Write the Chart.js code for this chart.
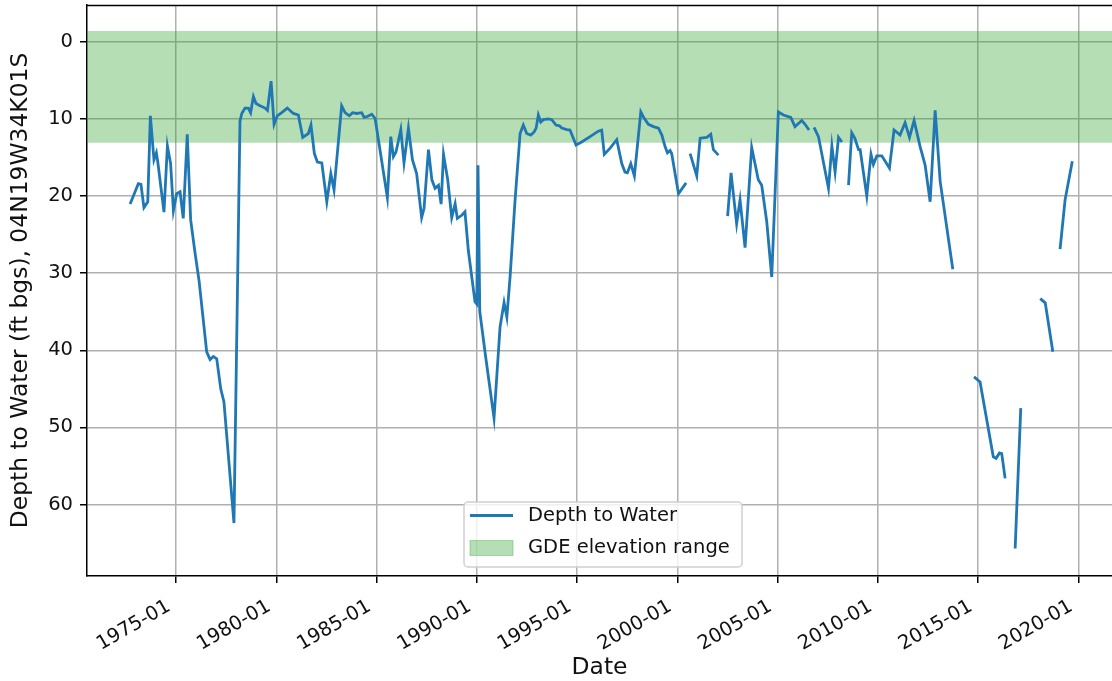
<!DOCTYPE html>
<html>
<head>
<meta charset="utf-8">
<script src="https://cdn.jsdelivr.net/npm/chart.js@4/dist/chart.umd.min.js"></script>
<style>
html,body{margin:0;padding:0;background:#fff;overflow:hidden;}
#wrap{width:1112px;height:681px;position:relative;}
</style>
</head>
<body>
<div id="wrap"><canvas id="c" width="1112" height="681"></canvas></div>
<script>
// ---- data (decimal year, depth to water in ft bgs; null = gap) ----
const dateYears = [
1972.71,1973.12,1973.25,1973.40,1973.59,1973.72,1973.90,1974.02,1974.09,1974.40,
1974.57,1974.73,1974.87,1975.03,1975.20,1975.36,1975.56,1975.73,1975.95,1976.15,
1976.53,1976.70,1976.86,1977.03,1977.23,1977.39,1977.89,1978.19,1978.28,1978.44,
1978.61,1978.72,1978.86,1978.99,1979.19,1979.44,1979.56,1979.74,1979.89,1980.05,
1980.27,1980.55,1980.85,1981.10,1981.32,1981.60,1981.73,1981.90,1982.05,1982.27,
1982.52,1982.72,1982.88,1983.26,1983.43,1983.64,1983.81,1984.01,1984.26,1984.38,
1984.54,1984.76,1984.93,1985.54,1985.71,1985.84,1985.97,1986.21,1986.37,1986.59,
1986.79,1987.00,1987.25,1987.37,1987.59,1987.76,1987.92,1988.09,1988.22,1988.34,
1988.55,1988.75,1988.92,1989.03,1989.25,1989.41,1989.58,1989.91,1990.00,1990.06,
1990.15,1990.45,1990.86,1991.16,1991.36,1991.50,1991.66,1991.91,1992.16,1992.32,
1992.49,1992.69,1992.86,1992.96,1993.07,1993.19,1993.32,1993.57,1993.74,1993.95,
1994.12,1994.24,1994.49,1994.65,1994.95,1995.23,1995.65,1996.06,1996.23,1996.36,
1996.65,1996.98,1997.23,1997.39,1997.51,1997.68,1997.86,1998.18,1998.34,1998.56,
1998.81,1999.06,1999.23,1999.39,1999.51,1999.64,1999.72,2000.06,2000.44,2000.54,
2000.64,2000.97,2001.14,2001.47,2001.67,2001.80,2002.05,2002.30,
2002.51,2002.68,2002.96,2003.13,2003.38,2003.71,2004.04,2004.21,2004.46,2004.71,
2005.04,2005.29,2005.66,2005.87,2006.21,2006.37,2006.57,2006.70,
2006.82,2007.04,2007.54,2007.71,2007.87,2008.04,2008.21,2008.38,
2008.54,2008.70,2008.85,2009.04,2009.12,2009.45,2009.66,2009.78,2009.95,2010.20,
2010.58,2010.81,2011.11,2011.36,2011.58,2011.81,2012.11,2012.36,2012.61,2012.86,
2013.11,2013.74,2014.30,
2014.80,2015.10,2015.76,2015.90,2016.07,2016.18,2016.35,2016.60,
2016.85,2017.13,2017.60,
2018.10,2018.35,2018.73,2018.90,
2019.09,2019.34,2019.70
];
const depthToWater = [
21.05,18.4,18.5,21.5,20.75,9.6,15.3,14.4,15.6,22.1,
13.5,15.8,21.9,19.7,19.45,22.9,12.0,23.1,27.4,31.0,
40.2,41.2,40.8,41.1,45.0,46.7,62.4,10.3,9.3,8.6,
8.6,9.2,7.1,8.0,8.3,8.6,8.9,5.1,10.7,9.6,
9.2,8.6,9.3,9.5,12.4,11.9,10.8,14.5,15.6,15.7,
20.75,17.1,19.2,8.3,9.2,9.6,9.2,9.3,9.2,9.8,
9.7,9.4,9.95,20.2,12.3,14.9,14.3,11.4,15.7,11.2,
15.3,17.1,22.8,21.6,14.0,17.9,19.0,18.6,21.05,14.6,
17.9,22.8,21.0,22.9,22.5,22.05,27.1,33.7,34.0,16.0,
35.0,41.0,48.8,37.0,33.8,35.7,30.5,20.5,11.9,10.8,
11.9,12.1,11.7,11.2,9.5,10.4,10.1,10.0,10.1,10.8,
10.9,11.2,11.4,11.45,13.4,13.0,12.3,11.6,11.45,14.6,
13.8,12.7,15.8,16.9,17.0,15.8,17.4,9.1,9.9,10.7,
11.0,11.2,12.1,13.6,14.4,14.1,14.5,19.7,18.3,null,
14.5,17.4,12.5,12.4,12.0,14.0,14.7,null,
22.6,17.0,23.6,20.5,26.7,13.7,17.9,18.6,23.3,30.5,
9.1,9.5,9.8,11.0,10.2,10.7,11.45,null,
11.1,12.3,19.0,13.5,16.9,12.4,13.0,null,
18.6,11.8,12.5,14.0,14.0,20.0,14.6,15.9,14.8,14.8,
16.4,11.45,12.1,10.5,12.4,10.2,13.6,16.0,20.75,8.9,
18.1,29.5,null,
43.45,44.1,53.8,54.0,53.3,53.4,56.6,null,
65.7,47.5,null,
33.3,33.85,40.2,null,
26.9,20.5,15.5
];
// GDE elevation range (ft bgs)
const gdeRange = [-1.4, 13.1];
// axes
const xTickYears = [1975,1980,1985,1990,1995,2000,2005,2010,2015,2020];
const xTickLabels = ['1975-01','1980-01','1985-01','1990-01','1995-01','2000-01','2005-01','2010-01','2015-01','2020-01'];
const yTickValues = [0,10,20,30,40,50,60];
const xRange = [1970.56, 2021.68];
const yRange = [-4.76, 69.26];

const seriesLabel = 'Depth to Water';
const bandLabel = 'GDE elevation range';
const xTitle = 'Date';
const yTitle = 'Depth to Water (ft bgs), 04N19W34K01S';

const LINE_COLOR = '#1f77b4';
const BAND_COLOR = 'rgba(44,160,44,0.35)';
const FONT = 'DejaVu Sans';

const lineData = dateYears.map((x, i) => ({x: x, y: depthToWater[i]}));
const bandData = [{x: xRange[0] - 5, y: gdeRange[1]}, {x: xRange[1] + 5, y: gdeRange[1]}];

const framePlugin = {
  id: 'frame',
  beforeDraw(chart) {
    const ctx = chart.ctx;
    ctx.save();
    ctx.fillStyle = '#fff';
    ctx.fillRect(0, 0, chart.width, chart.height);
    ctx.restore();
  },
  afterDraw(chart) {
    const ctx = chart.ctx;
    const a = chart.chartArea;
    ctx.save();
    // top spine
    ctx.strokeStyle = '#000';
    ctx.lineWidth = 1.5;
    ctx.beginPath();
    ctx.moveTo(a.left, a.top + 0.5);
    ctx.lineTo(a.right, a.top + 0.5);
    ctx.stroke();
    // legend
    const bx = a.left + 377, by = a.top + 497, bw = 278, bh = 65;
    ctx.fillStyle = 'rgba(255,255,255,0.8)';
    ctx.strokeStyle = '#d0d0d0';
    ctx.lineWidth = 1.5;
    const r = 4;
    ctx.beginPath();
    ctx.moveTo(bx + r, by);
    ctx.lineTo(bx + bw - r, by);
    ctx.arcTo(bx + bw, by, bx + bw, by + r, r);
    ctx.lineTo(bx + bw, by + bh - r);
    ctx.arcTo(bx + bw, by + bh, bx + bw - r, by + bh, r);
    ctx.lineTo(bx + r, by + bh);
    ctx.arcTo(bx, by + bh, bx, by + bh - r, r);
    ctx.lineTo(bx, by + r);
    ctx.arcTo(bx, by, bx + r, by, r);
    ctx.closePath();
    ctx.fill();
    ctx.stroke();
    // line handle
    ctx.strokeStyle = LINE_COLOR;
    ctx.lineWidth = 2.9;
    ctx.beginPath();
    ctx.moveTo(bx + 6, by + 13.5);
    ctx.lineTo(bx + 49, by + 13.5);
    ctx.stroke();
    // patch handle
    ctx.fillStyle = BAND_COLOR;
    ctx.fillRect(bx + 6, by + 38.5, 43, 15);
    ctx.strokeStyle = 'rgba(44,160,44,0.35)';
    ctx.lineWidth = 1;
    ctx.strokeRect(bx + 6, by + 38.5, 43, 15);
    // texts
    ctx.fillStyle = '#111';
    ctx.font = '19.5px "' + FONT + '"';
    ctx.textBaseline = 'middle';
    ctx.textAlign = 'left';
    ctx.fillText(seriesLabel, bx + 64, by + 13.5);
    ctx.fillText(bandLabel, bx + 64, by + 46);
    ctx.restore();
  }
};

new Chart(document.getElementById('c'), {
  type: 'line',
  data: {
    datasets: [
      {
        label: seriesLabel,
        data: lineData,
        borderColor: LINE_COLOR,
        borderWidth: 2.8,
        pointRadius: 0,
        pointHoverRadius: 0,
        tension: 0,
        spanGaps: false,
        fill: false,
        order: 0
      },
      {
        label: bandLabel,
        data: bandData,
        borderWidth: 0,
        borderColor: 'rgba(0,0,0,0)',
        backgroundColor: BAND_COLOR,
        pointRadius: 0,
        fill: {value: gdeRange[0]},
        order: 1
      }
    ]
  },
  options: {
    responsive: false,
    animation: false,
    devicePixelRatio: 1,
    layout: {padding: {top: 5, right: 0, left: 0, bottom: 0}},
    plugins: {
      legend: {display: false},
      tooltip: {enabled: false}
    },
    scales: {
      x: {
        type: 'linear',
        min: xRange[0],
        max: xRange[1],
        afterBuildTicks(scale) { scale.ticks = xTickYears.map(v => ({value: v})); },
        afterFit(scale) { scale.height = 105; scale.paddingLeft = 0; scale.paddingRight = 0; },
        grid: {color: '#b0b0b0', lineWidth: 1.5, tickColor: '#000', tickLength: 7, tickWidth: 1.5, drawTicks: true},
        border: {display: true, color: '#000', width: 1.5},
        ticks: {
          autoSkip: false,
          minRotation: 30,
          maxRotation: 30,
          padding: 12,
          labelOffset: -7,
          color: '#111',
          font: {family: FONT, size: 19.5},
          callback: (v, i) => xTickLabels[i]
        },
        title: {display: true, text: xTitle, color: '#111', font: {family: FONT, size: 23.4}, padding: {top: 0, bottom: -1}}
      },
      y: {
        type: 'linear',
        reverse: true,
        min: yRange[0],
        max: yRange[1],
        afterBuildTicks(scale) { scale.ticks = yTickValues.map(v => ({value: v})); },
        afterFit(scale) { scale.width = 87; scale.paddingTop = 0; scale.paddingBottom = 0; },
        grid: {color: '#b0b0b0', lineWidth: 1.5, tickColor: '#000', tickLength: 7, tickWidth: 1.5, drawTicks: true},
        border: {display: true, color: '#000', width: 1.5},
        ticks: {
          padding: 7,
          color: '#111',
          font: {family: FONT, size: 19.5},
          callback: v => String(v)
        },
        title: {display: true, text: yTitle, color: '#111', font: {family: FONT, size: 23.4}, padding: {top: 7, bottom: 0}}
      }
    }
  },
  plugins: [framePlugin]
});
</script>
</body>
</html>
